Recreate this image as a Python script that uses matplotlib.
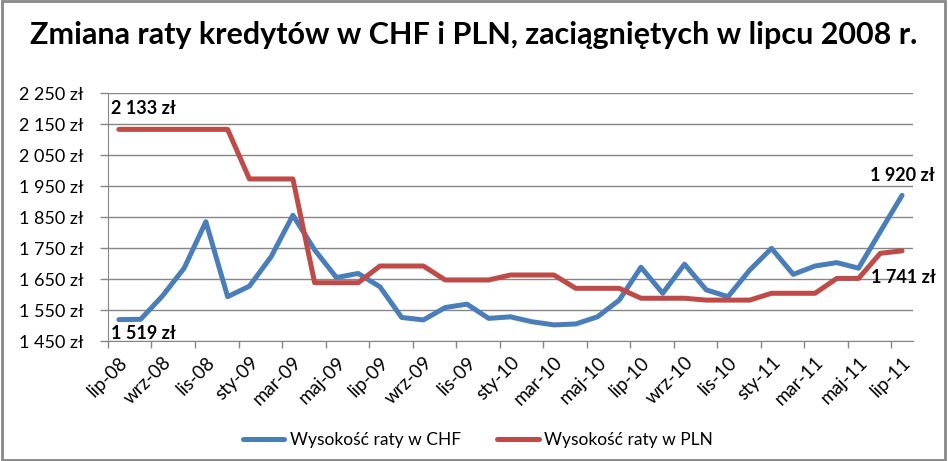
import matplotlib
matplotlib.use("Agg")
import matplotlib.pyplot as plt
from matplotlib.patches import Rectangle
from matplotlib.ticker import FuncFormatter, FixedLocator

plt.rcParams['font.family'] = ['Lato', 'DejaVu Sans']

months = ['lip-08', 'sie-08', 'wrz-08', 'paź-08', 'lis-08', 'gru-08',
          'sty-09', 'lut-09', 'mar-09', 'kwi-09', 'maj-09', 'cze-09',
          'lip-09', 'sie-09', 'wrz-09', 'paź-09', 'lis-09', 'gru-09',
          'sty-10', 'lut-10', 'mar-10', 'kwi-10', 'maj-10', 'cze-10',
          'lip-10', 'sie-10', 'wrz-10', 'paź-10', 'lis-10', 'gru-10',
          'sty-11', 'lut-11', 'mar-11', 'kwi-11', 'maj-11', 'cze-11',
          'lip-11']

chf = [1519, 1520, 1595, 1685, 1835, 1593, 1627, 1722, 1856, 1744,
       1655, 1668, 1625, 1526, 1518, 1558, 1569, 1523, 1528, 1512,
       1502, 1505, 1528, 1582, 1688, 1604, 1698, 1615, 1593, 1679,
       1749, 1665, 1692, 1703, 1685, 1803, 1920]

pln = [2133, 2133, 2133, 2133, 2133, 2133, 1973, 1973, 1973, 1638,
       1638, 1638, 1692, 1692, 1692, 1647, 1647, 1647, 1663, 1663,
       1663, 1620, 1620, 1620, 1588, 1588, 1588, 1582, 1582, 1582,
       1604, 1604, 1604, 1652, 1652, 1733, 1741]

y_ticks = [1450, 1550, 1650, 1750, 1850, 1950, 2050, 2150, 2250]

blue = '#4A7EBB'
red = '#BE4B48'
grid = '#868686'


def zl(v):
    return f'{int(v):,} zł'.replace(',', ' ')


fig = plt.figure(figsize=(9.48, 4.61), dpi=100)
ax = fig.add_axes([0.1139, 0.2603, 0.8491, 0.5377])

x = list(range(len(months)))
ax.plot(x, chf, color=blue, lw=3.6, solid_capstyle='round',
        solid_joinstyle='round', label='Wysokość raty w CHF')
ax.plot(x, pln, color=red, lw=3.6, solid_capstyle='round',
        solid_joinstyle='round', label='Wysokość raty w PLN')

ax.set_xlim(-0.5, len(months) - 0.5)
ax.set_ylim(y_ticks[0], y_ticks[-1])
ax.yaxis.set_major_locator(FixedLocator(y_ticks))
ax.yaxis.set_major_formatter(FuncFormatter(lambda v, p: zl(v)))
ax.set_xticks(x[::2])
ax.set_xticklabels(months[::2], rotation=45, ha='right',
                   rotation_mode='anchor', fontsize=13.5)
ax.set_xticks([i - 0.5 for i in range(0, len(months) + 1, 2)], minor=True)
ax.tick_params(axis='x', which='major', length=0, pad=9)
ax.tick_params(axis='x', which='minor', length=5, color=grid, width=1)
ax.tick_params(axis='y', length=5.5, color=grid, width=1, labelsize=13, pad=12)

ax.grid(axis='y', color=grid, lw=1)
ax.set_axisbelow(True)
for s in ['top', 'right']:
    ax.spines[s].set_visible(False)
ax.spines['left'].set_color(grid)
ax.spines['bottom'].set_color(grid)

# etykiety danych (offsety w punktach)
lab = dict(fontsize=13, fontweight='bold', textcoords='offset points',
           ha='center', va='center')
ax.annotate(zl(pln[0]), (0, pln[0]), xytext=(18, 15), **lab)
ax.annotate(zl(chf[0]), (0, chf[0]), xytext=(18, -10), **lab)
ax.annotate(zl(chf[-1]), (x[-1], chf[-1]), xytext=(0, 14.5), **lab)
ax.annotate(zl(pln[-1]), (x[-1], pln[-1]), xytext=(1, -19), **lab)

fig.text(0.5, 0.925, 'Zmiana raty kredytów w CHF i PLN, zaciągniętych w lipcu 2008 r.',
         ha='center', va='center', fontsize=22, fontweight='bold')

fig.legend(loc='center', bbox_to_anchor=(0.504, 0.046), ncol=2, frameon=False,
           fontsize=12.5, handlelength=2.4, columnspacing=2.1, handletextpad=0.3)

fig.patches.append(Rectangle((0.002, 0.003), 0.995, 0.994, transform=fig.transFigure,
                             fill=False, edgecolor='#888888', lw=2))

fig.savefig('out.png', dpi=100)
